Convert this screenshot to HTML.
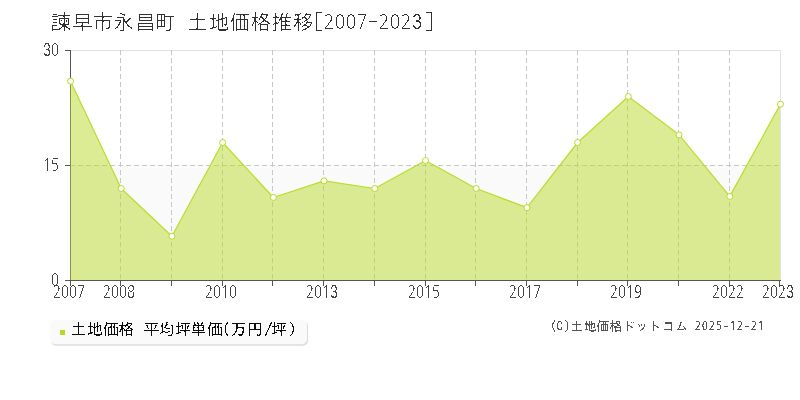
<!DOCTYPE html><html><head><meta charset="utf-8"><style>html,body{margin:0;padding:0;background:#fff;width:800px;height:400px;overflow:hidden}svg{display:block}</style></head><body>
<svg width="800" height="400" viewBox="0 0 800 400">
<defs>
<filter id="f_low" x="-5%" y="-20%" width="110%" height="140%"><feComponentTransfer><feFuncA type="discrete" tableValues="0 0 0 0 0 0 1 1 1 1 1 1 1 1 1 1 1 1 1 1"/></feComponentTransfer></filter>
<filter id="f_title" x="-5%" y="-20%" width="110%" height="140%"><feComponentTransfer><feFuncA type="discrete" tableValues="0 0 0 0 0 0 0 0 0 0 0 0 0 0 1 1 1 1 1 1"/></feComponentTransfer></filter>
<filter id="f_axis" x="-5%" y="-20%" width="110%" height="140%"><feComponentTransfer><feFuncA type="discrete" tableValues="0 0 0 0 0 0 0 0 0 0 1 1 1 1 1 1 1 1 1 1"/></feComponentTransfer></filter>
<filter id="f_leg" x="-5%" y="-20%" width="110%" height="140%"><feComponentTransfer><feFuncA type="discrete" tableValues="0 0 0 0 0 0 0 0 0 0 1 1 1 1 1 1 1 1 1 1"/></feComponentTransfer></filter>
<filter id="f_crt" x="-5%" y="-20%" width="110%" height="140%"><feComponentTransfer><feFuncA type="discrete" tableValues="0 0 0 0 0 0 0 0 0 0 1 1 1 1 1 1 1 1 1 1"/></feComponentTransfer></filter>
<filter id="f_crd" x="-5%" y="-20%" width="110%" height="140%"><feComponentTransfer><feFuncA type="discrete" tableValues="0 0 0 0 0 0 0 1 1 1 1 1 1 1 1 1 1 1 1 1"/></feComponentTransfer></filter>
<filter id="sh" x="-5%" y="-20%" width="110%" height="150%"><feGaussianBlur stdDeviation="0.5"/></filter></defs>
<rect x="70" y="165" width="710" height="115" fill="#fbfafb"/>
<line x1="70" y1="50.5" x2="781" y2="50.5" stroke="#e2e2e2" stroke-width="1"/>
<line x1="780.5" y1="50" x2="780.5" y2="280" stroke="#e2e2e2" stroke-width="1"/>
<line x1="70" y1="165.5" x2="780" y2="165.5" stroke="#c8c8c8" stroke-width="1" stroke-dasharray="5,3"/>
<line x1="120.5" y1="50" x2="120.5" y2="280" stroke="#c8c8c8" stroke-width="1" stroke-dasharray="5,3"/>
<line x1="171.5" y1="50" x2="171.5" y2="280" stroke="#c8c8c8" stroke-width="1" stroke-dasharray="5,3"/>
<line x1="222.5" y1="50" x2="222.5" y2="280" stroke="#c8c8c8" stroke-width="1" stroke-dasharray="5,3"/>
<line x1="272.5" y1="50" x2="272.5" y2="280" stroke="#c8c8c8" stroke-width="1" stroke-dasharray="5,3"/>
<line x1="323.5" y1="50" x2="323.5" y2="280" stroke="#c8c8c8" stroke-width="1" stroke-dasharray="5,3"/>
<line x1="374.5" y1="50" x2="374.5" y2="280" stroke="#c8c8c8" stroke-width="1" stroke-dasharray="5,3"/>
<line x1="425.5" y1="50" x2="425.5" y2="280" stroke="#c8c8c8" stroke-width="1" stroke-dasharray="5,3"/>
<line x1="475.5" y1="50" x2="475.5" y2="280" stroke="#c8c8c8" stroke-width="1" stroke-dasharray="5,3"/>
<line x1="526.5" y1="50" x2="526.5" y2="280" stroke="#c8c8c8" stroke-width="1" stroke-dasharray="5,3"/>
<line x1="577.5" y1="50" x2="577.5" y2="280" stroke="#c8c8c8" stroke-width="1" stroke-dasharray="5,3"/>
<line x1="627.5" y1="50" x2="627.5" y2="280" stroke="#c8c8c8" stroke-width="1" stroke-dasharray="5,3"/>
<line x1="678.5" y1="50" x2="678.5" y2="280" stroke="#c8c8c8" stroke-width="1" stroke-dasharray="5,3"/>
<line x1="729.5" y1="50" x2="729.5" y2="280" stroke="#c8c8c8" stroke-width="1" stroke-dasharray="5,3"/>
<line x1="70.5" y1="50" x2="70.5" y2="281" stroke="#555" stroke-width="1"/>
<line x1="70" y1="280.5" x2="781" y2="280.5" stroke="#555" stroke-width="1"/>
<line x1="65" y1="50.5" x2="70" y2="50.5" stroke="#555" stroke-width="1"/>
<line x1="65" y1="165.5" x2="70" y2="165.5" stroke="#555" stroke-width="1"/>
<line x1="65" y1="280.5" x2="70" y2="280.5" stroke="#555" stroke-width="1"/>
<line x1="70.5" y1="281" x2="70.5" y2="286" stroke="#555" stroke-width="1"/>
<line x1="120.5" y1="281" x2="120.5" y2="286" stroke="#555" stroke-width="1"/>
<line x1="171.5" y1="281" x2="171.5" y2="286" stroke="#555" stroke-width="1"/>
<line x1="222.5" y1="281" x2="222.5" y2="286" stroke="#555" stroke-width="1"/>
<line x1="272.5" y1="281" x2="272.5" y2="286" stroke="#555" stroke-width="1"/>
<line x1="323.5" y1="281" x2="323.5" y2="286" stroke="#555" stroke-width="1"/>
<line x1="374.5" y1="281" x2="374.5" y2="286" stroke="#555" stroke-width="1"/>
<line x1="425.5" y1="281" x2="425.5" y2="286" stroke="#555" stroke-width="1"/>
<line x1="475.5" y1="281" x2="475.5" y2="286" stroke="#555" stroke-width="1"/>
<line x1="526.5" y1="281" x2="526.5" y2="286" stroke="#555" stroke-width="1"/>
<line x1="577.5" y1="281" x2="577.5" y2="286" stroke="#555" stroke-width="1"/>
<line x1="627.5" y1="281" x2="627.5" y2="286" stroke="#555" stroke-width="1"/>
<line x1="678.5" y1="281" x2="678.5" y2="286" stroke="#555" stroke-width="1"/>
<line x1="729.5" y1="281" x2="729.5" y2="286" stroke="#555" stroke-width="1"/>
<line x1="779.5" y1="281" x2="779.5" y2="286" stroke="#555" stroke-width="1"/>
<polygon points="70,280 70,81.17 70.50,81.17 121.21,188.50 171.93,236.26 222.64,142.50 273.36,197.47 324.07,180.83 374.79,188.50 425.50,160.52 476.21,188.50 526.93,207.67 577.64,142.50 628.36,96.50 679.07,134.83 729.79,196.40 780.50,104.17 780,104.17 780,280" fill="rgba(185,217,41,0.5)"/>
<polyline points="70.50,81.17 121.21,188.50 171.93,236.26 222.64,142.50 273.36,197.47 324.07,180.83 374.79,188.50 425.50,160.52 476.21,188.50 526.93,207.67 577.64,142.50 628.36,96.50 679.07,134.83 729.79,196.40 780.50,104.17" fill="none" stroke="#bbdd2e" stroke-width="1.25" stroke-linejoin="round"/>
<circle cx="70.50" cy="81.17" r="3" fill="#fff" stroke="#b9d929" stroke-width="1"/>
<circle cx="121.21" cy="188.50" r="3" fill="#fff" stroke="#b9d929" stroke-width="1"/>
<circle cx="171.93" cy="236.26" r="3" fill="#fff" stroke="#b9d929" stroke-width="1"/>
<circle cx="222.64" cy="142.50" r="3" fill="#fff" stroke="#b9d929" stroke-width="1"/>
<circle cx="273.36" cy="197.47" r="3" fill="#fff" stroke="#b9d929" stroke-width="1"/>
<circle cx="324.07" cy="180.83" r="3" fill="#fff" stroke="#b9d929" stroke-width="1"/>
<circle cx="374.79" cy="188.50" r="3" fill="#fff" stroke="#b9d929" stroke-width="1"/>
<circle cx="425.50" cy="160.52" r="3" fill="#fff" stroke="#b9d929" stroke-width="1"/>
<circle cx="476.21" cy="188.50" r="3" fill="#fff" stroke="#b9d929" stroke-width="1"/>
<circle cx="526.93" cy="207.67" r="3" fill="#fff" stroke="#b9d929" stroke-width="1"/>
<circle cx="577.64" cy="142.50" r="3" fill="#fff" stroke="#b9d929" stroke-width="1"/>
<circle cx="628.36" cy="96.50" r="3" fill="#fff" stroke="#b9d929" stroke-width="1"/>
<circle cx="679.07" cy="134.83" r="3" fill="#fff" stroke="#b9d929" stroke-width="1"/>
<circle cx="729.79" cy="196.40" r="3" fill="#fff" stroke="#b9d929" stroke-width="1"/>
<circle cx="780.50" cy="104.17" r="3" fill="#fff" stroke="#b9d929" stroke-width="1"/>
<g filter="url(#f_axis)">
<text transform="translate(47.00 56.00) scale(0.731 1)" font-family='"Liberation Sans",sans-serif' font-size="18.49" fill="#444" text-anchor="middle">3</text>
<text transform="translate(55.00 56.00) scale(0.770 1)" font-family='NanumGothic,"Noto Sans CJK JP",sans-serif' font-size="17.2" fill="#444" text-anchor="middle">0</text>
<text transform="translate(47.00 171.00) scale(0.770 1)" font-family='NanumGothic,"Noto Sans CJK JP",sans-serif' font-size="17.2" fill="#444" text-anchor="middle">1</text>
<text transform="translate(55.00 171.00) scale(0.770 1)" font-family='NanumGothic,"Noto Sans CJK JP",sans-serif' font-size="17.2" fill="#444" text-anchor="middle">5</text>
<text transform="translate(55.00 286.00) scale(0.770 1)" font-family='NanumGothic,"Noto Sans CJK JP",sans-serif' font-size="17.2" fill="#444" text-anchor="middle">0</text>
<text transform="translate(57.00 298.00) scale(0.770 1)" font-family='NanumGothic,"Noto Sans CJK JP",sans-serif' font-size="17.2" fill="#444" text-anchor="middle">2</text>
<text transform="translate(65.00 298.00) scale(0.770 1)" font-family='NanumGothic,"Noto Sans CJK JP",sans-serif' font-size="17.2" fill="#444" text-anchor="middle">0</text>
<text transform="translate(73.00 298.00) scale(0.770 1)" font-family='NanumGothic,"Noto Sans CJK JP",sans-serif' font-size="17.2" fill="#444" text-anchor="middle">0</text>
<text transform="translate(81.00 298.00) scale(0.770 1)" font-family='NanumGothic,"Noto Sans CJK JP",sans-serif' font-size="17.2" fill="#444" text-anchor="middle">7</text>
<text transform="translate(107.00 298.00) scale(0.770 1)" font-family='NanumGothic,"Noto Sans CJK JP",sans-serif' font-size="17.2" fill="#444" text-anchor="middle">2</text>
<text transform="translate(115.00 298.00) scale(0.770 1)" font-family='NanumGothic,"Noto Sans CJK JP",sans-serif' font-size="17.2" fill="#444" text-anchor="middle">0</text>
<text transform="translate(123.00 298.00) scale(0.770 1)" font-family='NanumGothic,"Noto Sans CJK JP",sans-serif' font-size="17.2" fill="#444" text-anchor="middle">0</text>
<text transform="translate(131.00 298.00) scale(0.770 1)" font-family='NanumGothic,"Noto Sans CJK JP",sans-serif' font-size="17.2" fill="#444" text-anchor="middle">8</text>
<text transform="translate(209.00 298.00) scale(0.770 1)" font-family='NanumGothic,"Noto Sans CJK JP",sans-serif' font-size="17.2" fill="#444" text-anchor="middle">2</text>
<text transform="translate(217.00 298.00) scale(0.770 1)" font-family='NanumGothic,"Noto Sans CJK JP",sans-serif' font-size="17.2" fill="#444" text-anchor="middle">0</text>
<text transform="translate(225.00 298.00) scale(0.770 1)" font-family='NanumGothic,"Noto Sans CJK JP",sans-serif' font-size="17.2" fill="#444" text-anchor="middle">1</text>
<text transform="translate(233.00 298.00) scale(0.770 1)" font-family='NanumGothic,"Noto Sans CJK JP",sans-serif' font-size="17.2" fill="#444" text-anchor="middle">0</text>
<text transform="translate(310.00 298.00) scale(0.770 1)" font-family='NanumGothic,"Noto Sans CJK JP",sans-serif' font-size="17.2" fill="#444" text-anchor="middle">2</text>
<text transform="translate(318.00 298.00) scale(0.770 1)" font-family='NanumGothic,"Noto Sans CJK JP",sans-serif' font-size="17.2" fill="#444" text-anchor="middle">0</text>
<text transform="translate(326.00 298.00) scale(0.770 1)" font-family='NanumGothic,"Noto Sans CJK JP",sans-serif' font-size="17.2" fill="#444" text-anchor="middle">1</text>
<text transform="translate(334.00 298.00) scale(0.731 1)" font-family='"Liberation Sans",sans-serif' font-size="18.49" fill="#444" text-anchor="middle">3</text>
<text transform="translate(412.00 298.00) scale(0.770 1)" font-family='NanumGothic,"Noto Sans CJK JP",sans-serif' font-size="17.2" fill="#444" text-anchor="middle">2</text>
<text transform="translate(420.00 298.00) scale(0.770 1)" font-family='NanumGothic,"Noto Sans CJK JP",sans-serif' font-size="17.2" fill="#444" text-anchor="middle">0</text>
<text transform="translate(428.00 298.00) scale(0.770 1)" font-family='NanumGothic,"Noto Sans CJK JP",sans-serif' font-size="17.2" fill="#444" text-anchor="middle">1</text>
<text transform="translate(436.00 298.00) scale(0.770 1)" font-family='NanumGothic,"Noto Sans CJK JP",sans-serif' font-size="17.2" fill="#444" text-anchor="middle">5</text>
<text transform="translate(513.00 298.00) scale(0.770 1)" font-family='NanumGothic,"Noto Sans CJK JP",sans-serif' font-size="17.2" fill="#444" text-anchor="middle">2</text>
<text transform="translate(521.00 298.00) scale(0.770 1)" font-family='NanumGothic,"Noto Sans CJK JP",sans-serif' font-size="17.2" fill="#444" text-anchor="middle">0</text>
<text transform="translate(529.00 298.00) scale(0.770 1)" font-family='NanumGothic,"Noto Sans CJK JP",sans-serif' font-size="17.2" fill="#444" text-anchor="middle">1</text>
<text transform="translate(537.00 298.00) scale(0.770 1)" font-family='NanumGothic,"Noto Sans CJK JP",sans-serif' font-size="17.2" fill="#444" text-anchor="middle">7</text>
<text transform="translate(614.00 298.00) scale(0.770 1)" font-family='NanumGothic,"Noto Sans CJK JP",sans-serif' font-size="17.2" fill="#444" text-anchor="middle">2</text>
<text transform="translate(622.00 298.00) scale(0.770 1)" font-family='NanumGothic,"Noto Sans CJK JP",sans-serif' font-size="17.2" fill="#444" text-anchor="middle">0</text>
<text transform="translate(630.00 298.00) scale(0.770 1)" font-family='NanumGothic,"Noto Sans CJK JP",sans-serif' font-size="17.2" fill="#444" text-anchor="middle">1</text>
<text transform="translate(638.00 298.00) scale(0.770 1)" font-family='NanumGothic,"Noto Sans CJK JP",sans-serif' font-size="17.2" fill="#444" text-anchor="middle">9</text>
<text transform="translate(716.00 298.00) scale(0.770 1)" font-family='NanumGothic,"Noto Sans CJK JP",sans-serif' font-size="17.2" fill="#444" text-anchor="middle">2</text>
<text transform="translate(724.00 298.00) scale(0.770 1)" font-family='NanumGothic,"Noto Sans CJK JP",sans-serif' font-size="17.2" fill="#444" text-anchor="middle">0</text>
<text transform="translate(732.00 298.00) scale(0.770 1)" font-family='NanumGothic,"Noto Sans CJK JP",sans-serif' font-size="17.2" fill="#444" text-anchor="middle">2</text>
<text transform="translate(740.00 298.00) scale(0.770 1)" font-family='NanumGothic,"Noto Sans CJK JP",sans-serif' font-size="17.2" fill="#444" text-anchor="middle">2</text>
<text transform="translate(766.00 298.00) scale(0.770 1)" font-family='NanumGothic,"Noto Sans CJK JP",sans-serif' font-size="17.2" fill="#444" text-anchor="middle">2</text>
<text transform="translate(774.00 298.00) scale(0.770 1)" font-family='NanumGothic,"Noto Sans CJK JP",sans-serif' font-size="17.2" fill="#444" text-anchor="middle">0</text>
<text transform="translate(782.00 298.00) scale(0.770 1)" font-family='NanumGothic,"Noto Sans CJK JP",sans-serif' font-size="17.2" fill="#444" text-anchor="middle">2</text>
<text transform="translate(790.00 298.00) scale(0.731 1)" font-family='"Liberation Sans",sans-serif' font-size="18.49" fill="#444" text-anchor="middle">3</text>
</g>
<g filter="url(#f_title)">
<text x="50.50 71.88 92.50 113.12 134.88 155.12" y="30.00" font-family='IPAGothic,"Noto Sans CJK JP",sans-serif' font-size="21" fill="#333">諫早市永昌町</text>
<text x="187.12 208.62 229.50 250.38 271.38 292.88 313.50" y="30.00" font-family='IPAGothic,"Noto Sans CJK JP",sans-serif' font-size="21" fill="#333">土地価格推移[</text>
<text transform="translate(329.00 29.00) scale(0.920 1)" font-family='NanumGothic,"Noto Sans CJK JP",sans-serif' font-size="19.8" fill="#333" text-anchor="middle">2</text>
<text transform="translate(340.00 29.00) scale(0.920 1)" font-family='NanumGothic,"Noto Sans CJK JP",sans-serif' font-size="19.8" fill="#333" text-anchor="middle">0</text>
<text transform="translate(351.00 29.00) scale(0.920 1)" font-family='NanumGothic,"Noto Sans CJK JP",sans-serif' font-size="19.8" fill="#333" text-anchor="middle">0</text>
<text transform="translate(362.00 29.00) scale(0.920 1)" font-family='NanumGothic,"Noto Sans CJK JP",sans-serif' font-size="19.8" fill="#333" text-anchor="middle">7</text>
<text x="368.12" y="30.00" font-family='IPAGothic,"Noto Sans CJK JP",sans-serif' font-size="21" fill="#333">-</text>
<text transform="translate(384.00 29.00) scale(0.920 1)" font-family='NanumGothic,"Noto Sans CJK JP",sans-serif' font-size="19.8" fill="#333" text-anchor="middle">2</text>
<text transform="translate(395.00 29.00) scale(0.920 1)" font-family='NanumGothic,"Noto Sans CJK JP",sans-serif' font-size="19.8" fill="#333" text-anchor="middle">0</text>
<text transform="translate(406.00 29.00) scale(0.920 1)" font-family='NanumGothic,"Noto Sans CJK JP",sans-serif' font-size="19.8" fill="#333" text-anchor="middle">2</text>
<text transform="translate(417.00 29.00) scale(0.874 1)" font-family='"Liberation Sans",sans-serif' font-size="21.29" fill="#333" text-anchor="middle">3</text>
<text x="423.88" y="30.00" font-family='IPAGothic,"Noto Sans CJK JP",sans-serif' font-size="21" fill="#333">]</text>
</g>
<rect x="51" y="321.2" width="257" height="24.6" rx="5" fill="#dddddd" filter="url(#sh)"/>
<rect x="50" y="320" width="257" height="24.3" rx="5" fill="#fafafa"/>
<rect x="60" y="330" width="5" height="5" fill="#b9d929"/>
<g filter="url(#f_leg)">
<text x="70.50 86.88 103.12 118.50" y="335.00" font-family='IPAGothic,"Noto Sans CJK JP",sans-serif' font-size="16" fill="#111">土地価格</text>
<text x="143.38 158.62 175.12 190.50 207.12 222.12 230.62 246.88" y="335.00" font-family='IPAGothic,"Noto Sans CJK JP",sans-serif' font-size="16" fill="#111">平均坪単価(万円</text>
<text x="271.12 288.62" y="335.00" font-family='IPAGothic,"Noto Sans CJK JP",sans-serif' font-size="16" fill="#111">坪)</text>
</g>
<g filter="url(#f_low)">
<text x="264.50" y="335.00" font-family='IPAGothic,"Noto Sans CJK JP",sans-serif' font-size="16" fill="#111">/</text>
</g>
<g filter="url(#f_crt)">
<text x="550.12 556.62 564.12 570.50 583.62 596.50 609.62 622.62 635.50 648.62 662.12 674.88" y="330.50" font-family='IPAGothic,"Noto Sans CJK JP",sans-serif' font-size="13" fill="#555">(C)土地価格ドットコム</text>
<text x="722.62" y="330.50" font-family='IPAGothic,"Noto Sans CJK JP",sans-serif' font-size="13" fill="#555">-</text>
<text x="743.62" y="330.50" font-family='IPAGothic,"Noto Sans CJK JP",sans-serif' font-size="13" fill="#555">-</text>
</g>
<g filter="url(#f_crd)">
<text transform="translate(698.00 330.00) scale(0.800 1)" font-family='NanumGothic,"Noto Sans CJK JP",sans-serif' font-size="12" fill="#555" text-anchor="middle">2</text>
<text transform="translate(705.00 330.00) scale(0.800 1)" font-family='NanumGothic,"Noto Sans CJK JP",sans-serif' font-size="12" fill="#555" text-anchor="middle">0</text>
<text transform="translate(712.00 330.00) scale(0.800 1)" font-family='NanumGothic,"Noto Sans CJK JP",sans-serif' font-size="12" fill="#555" text-anchor="middle">2</text>
<text transform="translate(719.00 330.00) scale(0.800 1)" font-family='NanumGothic,"Noto Sans CJK JP",sans-serif' font-size="12" fill="#555" text-anchor="middle">5</text>
<text transform="translate(733.00 330.00) scale(0.800 1)" font-family='NanumGothic,"Noto Sans CJK JP",sans-serif' font-size="12" fill="#555" text-anchor="middle">1</text>
<text transform="translate(740.00 330.00) scale(0.800 1)" font-family='NanumGothic,"Noto Sans CJK JP",sans-serif' font-size="12" fill="#555" text-anchor="middle">2</text>
<text transform="translate(754.00 330.00) scale(0.800 1)" font-family='NanumGothic,"Noto Sans CJK JP",sans-serif' font-size="12" fill="#555" text-anchor="middle">2</text>
<text transform="translate(761.00 330.00) scale(0.800 1)" font-family='NanumGothic,"Noto Sans CJK JP",sans-serif' font-size="12" fill="#555" text-anchor="middle">1</text>
</g>
</svg></body></html>
